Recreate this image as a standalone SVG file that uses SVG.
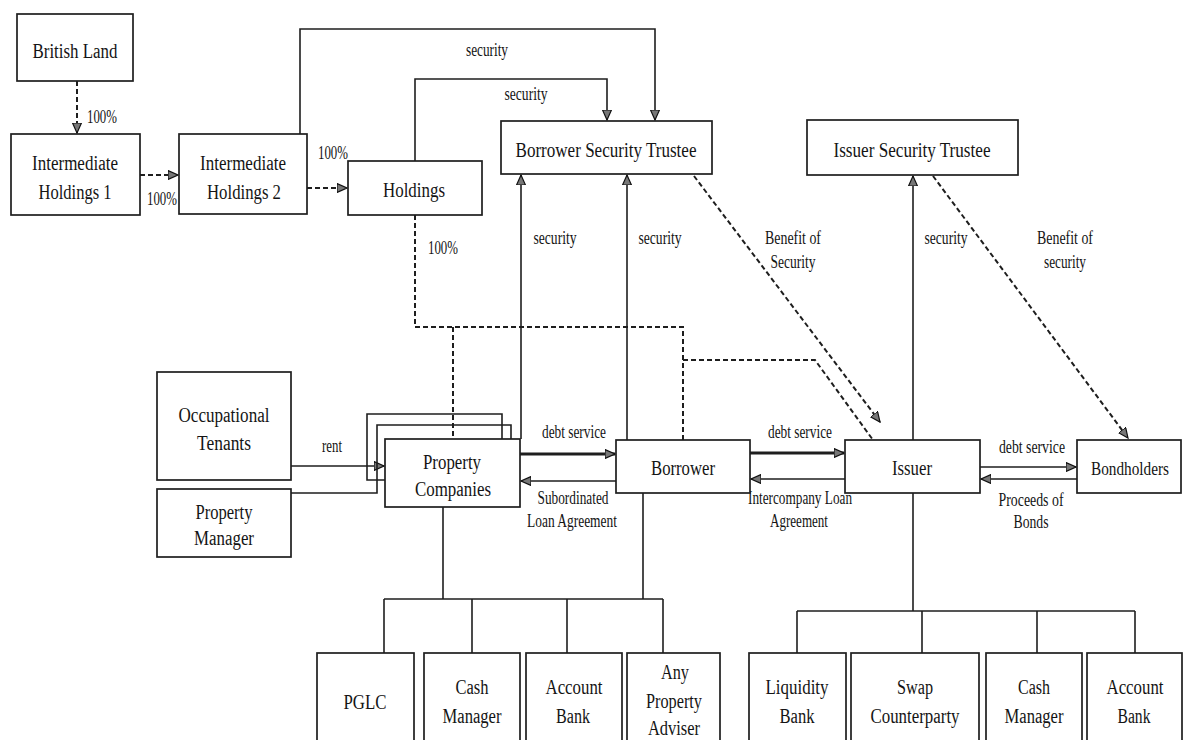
<svg xmlns="http://www.w3.org/2000/svg" width="1185" height="740" viewBox="0 0 1185 740">
<style>
.box{fill:#fff;stroke:#1e1e1e;stroke-width:1.7}
.t{font-family:"Liberation Serif","Times New Roman",serif;font-size:20px;fill:#141414;text-anchor:middle}
.l{font-size:18px}
.c{fill:none;stroke:#1e1e1e;stroke-width:1.6}
.d{stroke-dasharray:5 3;stroke-width:2}
.k{stroke-width:3}
</style>
<defs>
<marker id="ah" markerUnits="userSpaceOnUse" markerWidth="11" markerHeight="10" refX="10" refY="5" orient="auto">
<path d="M0,0.5 L10,5 L0,9.5 z" fill="#777" stroke="#111" stroke-width="1.2"/>
</marker>
</defs>
<rect width="1185" height="740" fill="#fff"/>

<g id="connectors">
<path class="c d" d="M77,81 V133" marker-end="url(#ah)"/>
<path class="c d" d="M140,175 H178" marker-end="url(#ah)"/>
<path class="c d" d="M307,188 H347" marker-end="url(#ah)"/>
<path class="c" d="M300,134 V29 H655 V120" marker-end="url(#ah)"/>
<path class="c" d="M415,161 V79 H607 V120" marker-end="url(#ah)"/>
<path class="c" d="M521,439 V175" marker-end="url(#ah)"/>
<path class="c" d="M627,440 V175" marker-end="url(#ah)"/>
<path class="c d" d="M694,176 L880,422" marker-end="url(#ah)"/>
<path class="c d" d="M415,215 V327 H683 V440"/>
<path class="c d" d="M453,327 V439"/>
<path class="c d" d="M683,360 H815 L873,440"/>
<path class="c" d="M913,440 V176" marker-end="url(#ah)"/>
<path class="c d" d="M933,176 L1128,438" marker-end="url(#ah)"/>
<path class="c" d="M291,466 H384" marker-end="url(#ah)"/>
<path class="c" d="M291,493 H377 V425 H511 V439"/>
<path class="c" d="M385,480 H367 V414 H502 V439"/>
<path class="c k" d="M520,454 H615" marker-end="url(#ah)"/>
<path class="c" d="M616,481 H521" marker-end="url(#ah)"/>
<path class="c k" d="M750,453 H844" marker-end="url(#ah)"/>
<path class="c" d="M845,479 H751" marker-end="url(#ah)"/>
<path class="c" d="M980,467 H1076" marker-end="url(#ah)"/>
<path class="c" d="M1077,479 H981" marker-end="url(#ah)"/>
<path class="c" d="M443,507 V599 M643,493 V599 M384,599 H663 M384,599 V653 M472,599 V653 M567,599 V653 M663,599 V653"/>
<path class="c" d="M913,493 V611 M797,611 H1135 M797,611 V653 M922,611 V653 M1037,611 V653 M1135,611 V653"/>
<text class="t l" x="102" y="123" textLength="30" lengthAdjust="spacingAndGlyphs">100%</text>
<text class="t l" x="162" y="205" textLength="30" lengthAdjust="spacingAndGlyphs">100%</text>
<text class="t l" x="333" y="159" textLength="30" lengthAdjust="spacingAndGlyphs">100%</text>
<text class="t l" x="487" y="56" textLength="42" lengthAdjust="spacingAndGlyphs">security</text>
<text class="t l" x="526" y="100" textLength="43" lengthAdjust="spacingAndGlyphs">security</text>
<text class="t l" x="443" y="254" textLength="30" lengthAdjust="spacingAndGlyphs">100%</text>
<text class="t l" x="555" y="244" textLength="43" lengthAdjust="spacingAndGlyphs">security</text>
<text class="t l" x="660" y="244" textLength="43" lengthAdjust="spacingAndGlyphs">security</text>
<text class="t l" x="793" y="244" textLength="56" lengthAdjust="spacingAndGlyphs">Benefit of</text>
<text class="t l" x="793" y="268" textLength="45" lengthAdjust="spacingAndGlyphs">Security</text>
<text class="t l" x="946" y="244" textLength="43" lengthAdjust="spacingAndGlyphs">security</text>
<text class="t l" x="1065" y="244" textLength="56" lengthAdjust="spacingAndGlyphs">Benefit of</text>
<text class="t l" x="1065" y="268" textLength="42" lengthAdjust="spacingAndGlyphs">security</text>
<text class="t l" x="332" y="452" textLength="20" lengthAdjust="spacingAndGlyphs">rent</text>
<text class="t l" x="574" y="438" textLength="64" lengthAdjust="spacingAndGlyphs">debt service</text>
<text class="t l" x="573" y="504" textLength="71" lengthAdjust="spacingAndGlyphs">Subordinated</text>
<text class="t l" x="572" y="527" textLength="90" lengthAdjust="spacingAndGlyphs">Loan Agreement</text>
<text class="t l" x="800" y="438" textLength="64" lengthAdjust="spacingAndGlyphs">debt service</text>
<text class="t l" x="800" y="504" textLength="104" lengthAdjust="spacingAndGlyphs">Intercompany Loan</text>
<text class="t l" x="799" y="527" textLength="58" lengthAdjust="spacingAndGlyphs">Agreement</text>
<text class="t l" x="1032" y="453" textLength="66" lengthAdjust="spacingAndGlyphs">debt service</text>
<text class="t l" x="1031" y="506" textLength="65" lengthAdjust="spacingAndGlyphs">Proceeds of</text>
<text class="t l" x="1031" y="528" textLength="35" lengthAdjust="spacingAndGlyphs">Bonds</text>
</g>

<g id="british-land"><rect class="box" x="17" y="14" width="116" height="67"/>
<text class="t" x="75" y="58" textLength="85" lengthAdjust="spacingAndGlyphs">British Land</text></g>
<g id="intermediate-holdings-1"><rect class="box" x="11" y="134" width="129" height="81"/>
<text class="t" x="75" y="170" textLength="86" lengthAdjust="spacingAndGlyphs">Intermediate</text>
<text class="t" x="75" y="199" textLength="73" lengthAdjust="spacingAndGlyphs">Holdings 1</text></g>
<g id="intermediate-holdings-2"><rect class="box" x="179" y="134" width="128" height="80"/>
<text class="t" x="243" y="170" textLength="86" lengthAdjust="spacingAndGlyphs">Intermediate</text>
<text class="t" x="244" y="199" textLength="74" lengthAdjust="spacingAndGlyphs">Holdings 2</text></g>
<g id="holdings"><rect class="box" x="348" y="161" width="134" height="54"/>
<text class="t" x="414" y="197" textLength="62" lengthAdjust="spacingAndGlyphs">Holdings</text></g>
<g id="borrower-security-trustee"><rect class="box" x="501" y="121" width="211" height="53"/>
<text class="t" x="606" y="157" textLength="181" lengthAdjust="spacingAndGlyphs">Borrower Security Trustee</text></g>
<g id="issuer-security-trustee"><rect class="box" x="807" y="120" width="211" height="55"/>
<text class="t" x="912" y="157" textLength="157" lengthAdjust="spacingAndGlyphs">Issuer Security Trustee</text></g>
<g id="occupational-tenants"><rect class="box" x="157" y="372" width="134" height="108"/>
<text class="t" x="224" y="422" textLength="91" lengthAdjust="spacingAndGlyphs">Occupational</text>
<text class="t" x="224" y="450" textLength="54" lengthAdjust="spacingAndGlyphs">Tenants</text></g>
<g id="property-manager"><rect class="box" x="157" y="489" width="134" height="68"/>
<text class="t" x="224" y="519" textLength="57" lengthAdjust="spacingAndGlyphs">Property</text>
<text class="t" x="224" y="545" textLength="60" lengthAdjust="spacingAndGlyphs">Manager</text></g>
<g id="property-companies"><rect class="box" x="385" y="439" width="135" height="68"/>
<text class="t" x="452" y="469" textLength="58" lengthAdjust="spacingAndGlyphs">Property</text>
<text class="t" x="453" y="496" textLength="76" lengthAdjust="spacingAndGlyphs">Companies</text></g>
<g id="borrower"><rect class="box" x="616" y="440" width="134" height="53"/>
<text class="t" x="683" y="475" textLength="64" lengthAdjust="spacingAndGlyphs">Borrower</text></g>
<g id="issuer"><rect class="box" x="845" y="440" width="135" height="53"/>
<text class="t" x="912" y="475" textLength="40" lengthAdjust="spacingAndGlyphs">Issuer</text></g>
<g id="bondholders"><rect class="box" x="1077" y="440" width="104" height="53"/>
<text class="t" x="1130" y="475" style="font-size:18px" textLength="78" lengthAdjust="spacingAndGlyphs">Bondholders</text></g>

<g id="pglc"><rect class="box" x="317" y="653" width="97" height="100"/>
<text class="t" x="365" y="709" textLength="43" lengthAdjust="spacingAndGlyphs">PGLC</text></g>
<g id="cash-manager-1"><rect class="box" x="424" y="653" width="96" height="100"/>
<text class="t" x="472" y="694" textLength="33" lengthAdjust="spacingAndGlyphs">Cash</text>
<text class="t" x="472" y="723" textLength="59" lengthAdjust="spacingAndGlyphs">Manager</text></g>
<g id="account-bank-1"><rect class="box" x="526" y="653" width="96" height="100"/>
<text class="t" x="574" y="694" textLength="57" lengthAdjust="spacingAndGlyphs">Account</text>
<text class="t" x="573" y="723" textLength="34" lengthAdjust="spacingAndGlyphs">Bank</text></g>
<g id="any-property-adviser"><rect class="box" x="627" y="653" width="93" height="100"/>
<text class="t" x="675" y="679" textLength="28" lengthAdjust="spacingAndGlyphs">Any</text>
<text class="t" x="674" y="708" textLength="56" lengthAdjust="spacingAndGlyphs">Property</text>
<text class="t" x="674" y="735" textLength="52" lengthAdjust="spacingAndGlyphs">Adviser</text></g>
<g id="liquidity-bank"><rect class="box" x="749" y="653" width="97" height="100"/>
<text class="t" x="797" y="694" textLength="63" lengthAdjust="spacingAndGlyphs">Liquidity</text>
<text class="t" x="797" y="723" textLength="35" lengthAdjust="spacingAndGlyphs">Bank</text></g>
<g id="swap-counterparty"><rect class="box" x="851" y="653" width="128" height="100"/>
<text class="t" x="915" y="694" textLength="36" lengthAdjust="spacingAndGlyphs">Swap</text>
<text class="t" x="915" y="723" textLength="89" lengthAdjust="spacingAndGlyphs">Counterparty</text></g>
<g id="cash-manager-2"><rect class="box" x="986" y="653" width="96" height="100"/>
<text class="t" x="1034" y="694" textLength="32" lengthAdjust="spacingAndGlyphs">Cash</text>
<text class="t" x="1034" y="723" textLength="59" lengthAdjust="spacingAndGlyphs">Manager</text></g>
<g id="account-bank-2"><rect class="box" x="1087" y="653" width="95" height="100"/>
<text class="t" x="1135" y="694" textLength="57" lengthAdjust="spacingAndGlyphs">Account</text>
<text class="t" x="1134" y="723" textLength="33" lengthAdjust="spacingAndGlyphs">Bank</text></g>
</svg>
